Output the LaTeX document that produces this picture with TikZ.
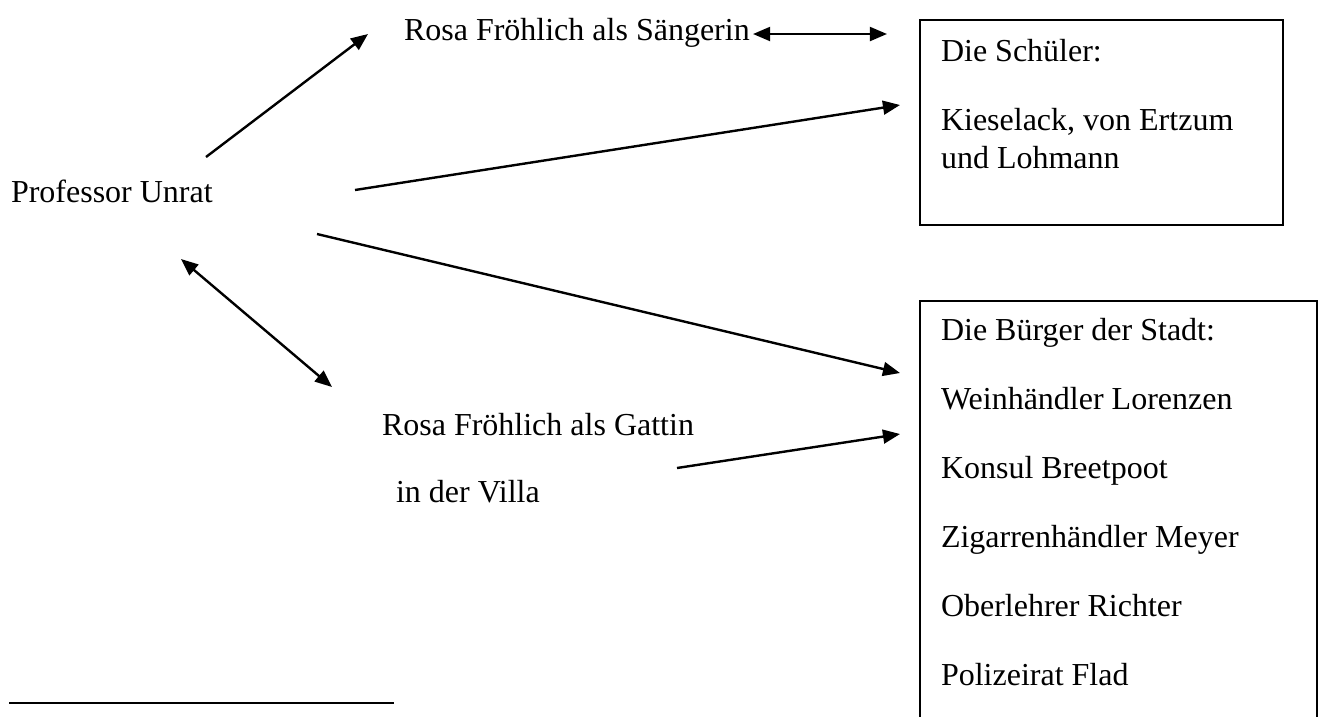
\documentclass[tikz,border=0pt]{standalone}
\usepackage{fontspec}
\setmainfont{Liberation Serif}
\usetikzlibrary{arrows.meta}
\begin{document}
\begin{tikzpicture}[x=0.375pt,y=-0.375pt, line width=0.75pt,
  txt/.style={anchor=base west, inner sep=0pt, font=\fontsize{12}{14}\selectfont},
  arr/.style={line width=0.9pt, -{Triangle[length=6.4pt,width=5.2pt]}},
  darr/.style={line width=0.9pt, {Triangle[length=6.4pt,width=5.2pt]}-{Triangle[length=6.4pt,width=5.2pt]}},
  frame/.style={draw, line width=0.75pt, inner sep=0pt, anchor=north west}]
\useasboundingbox (0,0) rectangle (1320,716);
\clip (0,0) rectangle (1320,716);

% boxes
\node[frame, minimum width=136.1pt, minimum height=76.9pt] (schueler) at (919,19) {};
\node[frame, minimum width=148.9pt, minimum height=190pt] (buerger) at (919,300) {};

% texts
\node[txt] (unrat) at (10,202) {Professor Unrat};
\node[txt] (saengerin) at (403,40) {Rosa Fröhlich als Sängerin};
\node[txt] (gattin) at (381,435) {Rosa Fröhlich als Gattin};
\node[txt] (villa) at (395,502) {in der Villa};

\node[txt] (s1) at (940,61) {Die Schüler:};
\node[txt] (s2) at (940,130) {Kieselack, von Ertzum};
\node[txt] (s3) at (940,168) {und Lohmann};

\node[txt] (b1) at (940,340) {Die Bürger der Stadt:};
\node[txt] (b2) at (940,409) {Weinhändler Lorenzen};
\node[txt] (b3) at (940,478) {Konsul Breetpoot};
\node[txt] (b4) at (940,547) {Zigarrenhändler Meyer};
\node[txt] (b5) at (940,616) {Oberlehrer Richter};
\node[txt] (b6) at (940,685) {Polizeirat Flad};

% connector end points
\coordinate (uNE) at (206,157);
\coordinate (sTip) at (368,34);
\coordinate (uE) at (355,190);
\coordinate (schTip) at (900,105);
\coordinate (uSE) at (317,234);
\coordinate (buTip) at (900,373);
\coordinate (uS) at (181,259);
\coordinate (gTop) at (332,387);
\coordinate (gE) at (677,468);
\coordinate (buTip2) at (900,434);
\coordinate (sgL) at (753,34);
\coordinate (sgR) at (887,34);

\draw[arr] (uNE) -- (sTip);
\draw[arr] (uE) -- (schTip);
\draw[arr] (uSE) -- (buTip);
\draw[darr] (uS) -- (gTop);
\draw[arr] (gE) -- (buTip2);
\draw[darr] (sgL) -- (sgR);

% footnote rule
\coordinate (fnL) at (9,703);
\coordinate (fnR) at (394,703);
\draw[line width=0.85pt] (fnL) -- (fnR);
\end{tikzpicture}
\end{document}
